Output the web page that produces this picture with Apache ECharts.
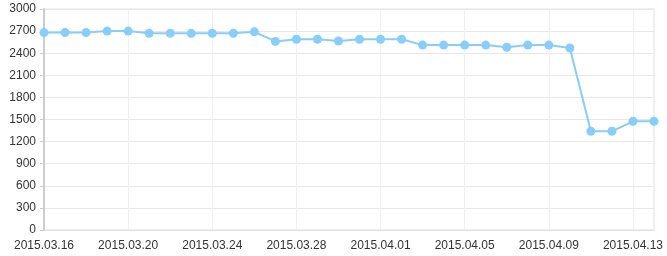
<!DOCTYPE html>
<html>
<head>
<meta charset="utf-8">
<script src="https://cdn.jsdelivr.net/npm/echarts@6/dist/echarts.min.js"></script>
<style>
html,body{margin:0;padding:0;background:#fff;}
#c{width:667px;height:256px;}
</style>
</head>
<body>
<div id="c"></div>
<script>
const categories = [
  '2015.03.16','2015.03.17','2015.03.18','2015.03.19','2015.03.20','2015.03.21','2015.03.22','2015.03.23',
  '2015.03.24','2015.03.25','2015.03.26','2015.03.27','2015.03.28','2015.03.29','2015.03.30','2015.03.31',
  '2015.04.01','2015.04.02','2015.04.03','2015.04.04','2015.04.05','2015.04.06','2015.04.07','2015.04.08',
  '2015.04.09','2015.04.10','2015.04.11','2015.04.12','2015.04.13','2015.04.14'
];
const values = [
  2680, 2680, 2680, 2700, 2700, 2670, 2670, 2670,
  2670, 2670, 2690, 2560, 2590, 2590, 2565, 2590,
  2590, 2590, 2510, 2510, 2510, 2510, 2480, 2510,
  2510, 2470, 1340, 1340, 1475, 1475
];
const yTicks = { min: 0, max: 3000, interval: 300 };

const every4 = function (i) { return i % 4 === 0; };

const chart = echarts.init(document.getElementById('c'), null, {renderer: 'canvas'});
chart.setOption({
  animation: false,
  grid: {
    left: 44, right: 13, top: 9, bottom: 26,
    containLabel: false,
    outerBoundsMode: 'none',
    show: true,
    borderColor: '#e0e0e0',
    borderWidth: 1,
    backgroundColor: 'transparent'
  },
  xAxis: {
    type: 'category',
    data: categories,
    boundaryGap: false,
    axisLine: { show: true, lineStyle: { color: '#e0e0e0', width: 1 } },
    axisTick: { show: false },
    axisLabel: {
      interval: every4,
      color: '#333',
      fontSize: 12,
      fontFamily: 'Liberation Sans, Arial, sans-serif',
      margin: 10,
      hideOverlap: false
    },
    splitLine: { show: true, interval: every4, lineStyle: { color: '#f0f0f0', width: 1 } }
  },
  yAxis: {
    type: 'value',
    min: yTicks.min, max: yTicks.max, interval: yTicks.interval,
    axisLine: { show: true, lineStyle: { color: '#cccccc', width: 2 } },
    axisTick: { show: true, length: 4, lineStyle: { color: '#cccccc' } },
    axisLabel: {
      color: '#333',
      fontSize: 12,
      fontFamily: 'Liberation Sans, Arial, sans-serif',
      margin: 8,
      formatter: function (v) { return String(v); }
    },
    splitLine: { show: true, lineStyle: { color: '#e8e8e8', width: 1 } }
  },
  series: [{
    type: 'line',
    data: values,
    symbol: 'circle',
    symbolSize: 9,
    showSymbol: true,
    showAllSymbol: true,
    itemStyle: { color: '#87cefa' },
    lineStyle: { color: '#87cefa', width: 2 },
    emphasis: { disabled: true }
  }]
});
</script>
</body>
</html>
